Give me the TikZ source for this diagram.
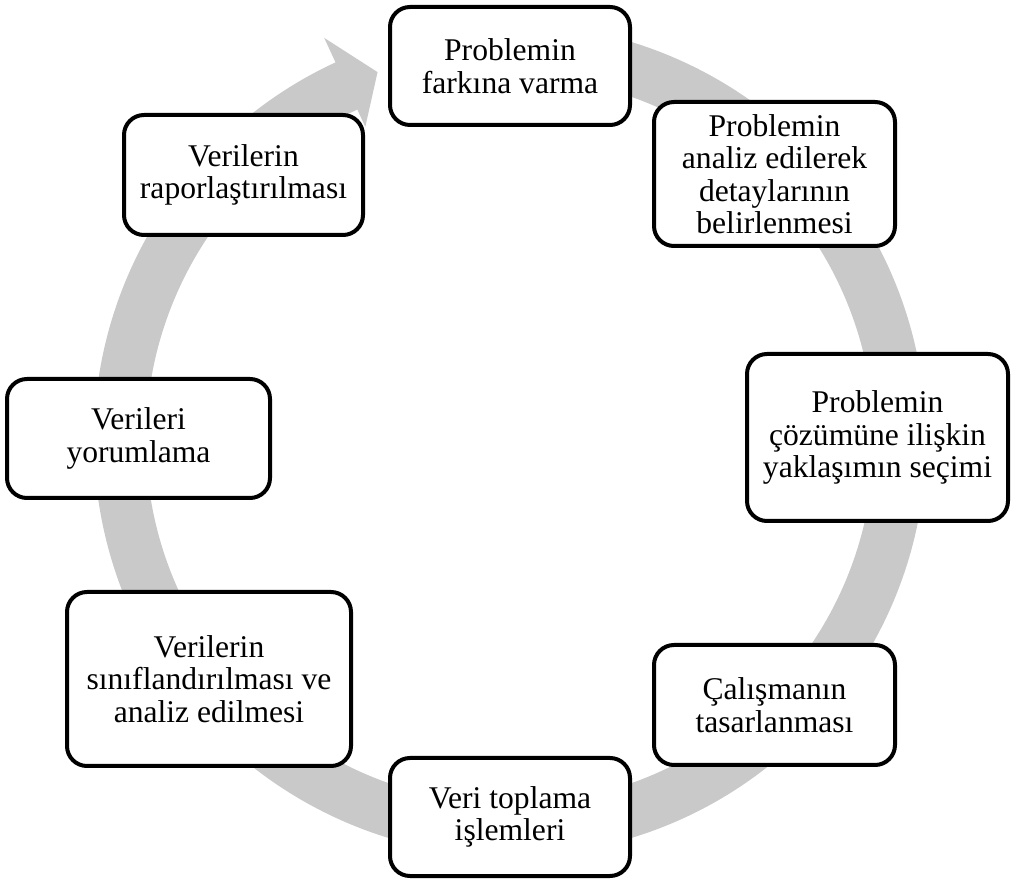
\documentclass[tikz,border=0pt]{standalone}
\usepackage{fontspec}
\setmainfont{Liberation Serif}
\definecolor{ringgray}{RGB}{201,201,201}
\begin{document}
\begin{tikzpicture}[x=1pt,y=1pt,
  stage/.style={draw=black, line width=4pt, rounded corners=20pt, fill=white,
    align=center, inner sep=4pt, font=\fontsize{31.6}{32.5}\selectfont},
]
\useasboundingbox (0,0) rectangle (1012,881);

% circular arrow running clockwise behind the stages
\begin{scope}[shift={(510,441)}]
  \fill[ringgray]
    (100:416) arc[start angle=100, end angle=-245.2, radius=416]
    -- (114.8:443) -- (109.8:391) -- (114.8:345)
    -- (-245.2:364) arc[start angle=-245.2, end angle=100, radius=364]
    -- cycle;
\end{scope}

% stages of the cycle
\node[stage, minimum width=240pt, minimum height=118pt] (s1) at (510,815)
  {Problemin\\farkına varma};
\node[stage, minimum width=241pt, minimum height=144pt] (s2) at (774.5,707)
  {Problemin\\analiz edilerek\\detaylarının\\belirlenmesi};
\node[stage, minimum width=261pt, minimum height=167pt] (s3) at (877.5,443.5)
  {Problemin\\çözümüne ilişkin\\yaklaşımın seçimi};
\node[stage, minimum width=241pt, minimum height=120pt] (s4) at (774.5,176)
  {Çalışmanın\\tasarlanması};
\node[stage, minimum width=240pt, minimum height=118pt] (s5) at (510,64)
  {Veri toplama\\işlemleri};
\node[stage, minimum width=284pt, minimum height=174pt] (s6) at (209,202)
  {Verilerin\\sınıflandırılması ve\\analiz edilmesi};
\node[stage, minimum width=263pt, minimum height=119pt] (s7) at (138.5,442.5)
  {Verileri\\yorumlama};
\node[stage, minimum width=239pt, minimum height=120pt] (s8) at (243.5,706)
  {Verilerin\\raporlaştırılması};
\end{tikzpicture}
\end{document}
